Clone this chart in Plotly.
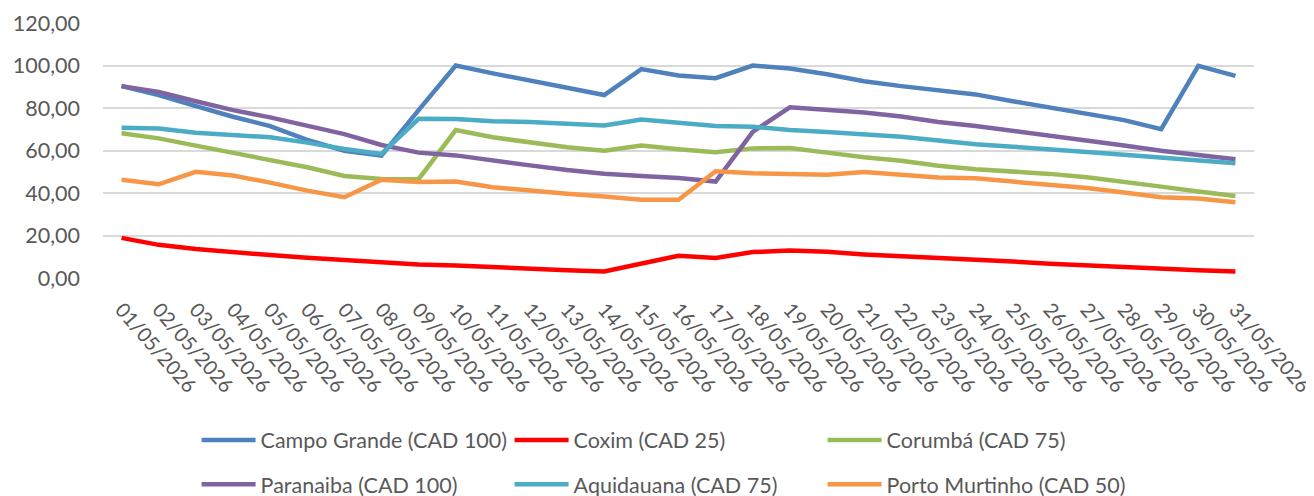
import plotly.graph_objects as go

dates = [f"{d:02d}/05/2026" for d in range(1, 32)]

campo_grande = [90.3, 86.1, 80.9, 75.9, 71.5, 65.0, 59.9, 57.6, 79.0, 100.0, 96.3,
                93.1, 89.5, 86.1, 98.3, 95.3, 94.0, 100.0, 98.6, 95.9, 92.6,
                90.3, 88.4, 86.4, 83.2, 80.1, 77.5, 74.3, 70.0, 99.8, 95.1]
coxim = [18.9, 15.6, 13.6, 12.0, 10.8, 9.5, 8.4, 7.3, 6.4, 5.9, 5.0,
         4.2, 3.7, 3.1, 7.0, 10.5, 9.4, 12.2, 12.9, 12.3, 11.1,
         10.4, 9.5, 8.7, 7.8, 6.7, 5.8, 5.0, 4.2, 3.6, 3.1]
corumba = [68.1, 65.7, 62.3, 59.0, 55.5, 52.1, 48.0, 46.6, 46.5, 69.6, 66.2,
           63.7, 61.5, 59.9, 62.3, 60.6, 59.2, 61.0, 61.2, 59.0, 56.8,
           55.2, 52.8, 51.2, 50.2, 49.0, 47.4, 45.4, 43.0, 40.7, 38.6]
paranaiba = [90.3, 87.6, 83.2, 79.0, 75.6, 71.8, 67.7, 62.6, 59.0, 57.7, 55.2,
             53.0, 50.8, 49.1, 48.0, 47.1, 45.4, 68.8, 80.3, 79.0, 77.9,
             76.0, 73.4, 71.5, 69.3, 67.1, 64.9, 62.4, 59.9, 57.7, 55.9]
aquidauana = [70.7, 70.4, 68.4, 67.3, 66.2, 63.7, 60.7, 58.4, 74.9, 74.8, 73.8,
              73.4, 72.8, 71.8, 74.6, 72.8, 71.5, 71.2, 69.6, 68.7, 67.7,
              66.5, 64.7, 62.9, 61.8, 60.8, 59.3, 58.0, 56.8, 55.2, 54.0]
porto_murtinho = [46.2, 44.1, 50.0, 48.2, 44.9, 41.1, 38.0, 46.2, 45.2, 45.4, 42.7,
                  40.9, 39.6, 38.3, 36.8, 36.8, 50.2, 49.3, 49.0, 48.6, 49.9,
                  48.7, 47.3, 46.9, 45.4, 44.3, 42.3, 40.2, 38.0, 37.4, 35.7]

series = [
    ("Campo Grande (CAD 100)", campo_grande, "#4F81BD", "legend"),
    ("Coxim (CAD 25)", coxim, "#FF0000", "legend"),
    ("Corumbá (CAD 75)", corumba, "#9BBB59", "legend"),
    ("Paranaiba (CAD 100)", paranaiba, "#8064A2", "legend2"),
    ("Aquidauana (CAD 75)", aquidauana, "#4BACC6", "legend2"),
    ("Porto Murtinho (CAD 50)", porto_murtinho, "#F79646", "legend2"),
]

y_ticks = [0, 20, 40, 60, 80, 100, 120]

fig = go.Figure()
for name, vals, color, leg in series:
    fig.add_trace(go.Scatter(
        x=dates, y=vals, name=name, mode="lines",
        line=dict(color=color, width=4.5),
        legend=leg,
    ))

font = dict(family="Lato", size=21.5, color="#595959")
xfont = dict(family="Lato", size=20, color="#595959")

leg_common = dict(
    orientation="h", xref="paper", yref="paper",
    xanchor="left", yanchor="middle",
    entrywidth=244, entrywidthmode="pixels",
    itemwidth=54, font=font, bgcolor="rgba(0,0,0,0)",
    borderwidth=0, traceorder="normal",
)

# the page body has an 8px default margin, so the figure is 8px smaller
fig.update_layout(
    width=1306, height=488,
    margin=dict(l=95, r=60, t=15, b=218, autoexpand=False),
    paper_bgcolor="white", plot_bgcolor="white",
    font=font,
    separators=",.",
    showlegend=True,
    xaxis=dict(
        type="category", tickangle=49, showgrid=False, zeroline=False,
        showline=False, ticks="", tickfont=xfont, range=[-0.5, 30.5],
        automargin=False, ticklabelstandoff=15,
    ),
    yaxis=dict(
        range=[0, 120], tickvals=y_ticks, tickformat=".2f",
        showgrid=True, gridcolor="#D9D9D9", gridwidth=1.5,
        zeroline=False, showline=False, ticks="", tickfont=font,
        ticklabelstandoff=22, automargin=False,
    ),
    legend=dict(x=0.0813, y=-0.635, **leg_common),
    legend2=dict(x=0.0813, y=-0.809, **leg_common),
)

fig.write_html("out.html")
